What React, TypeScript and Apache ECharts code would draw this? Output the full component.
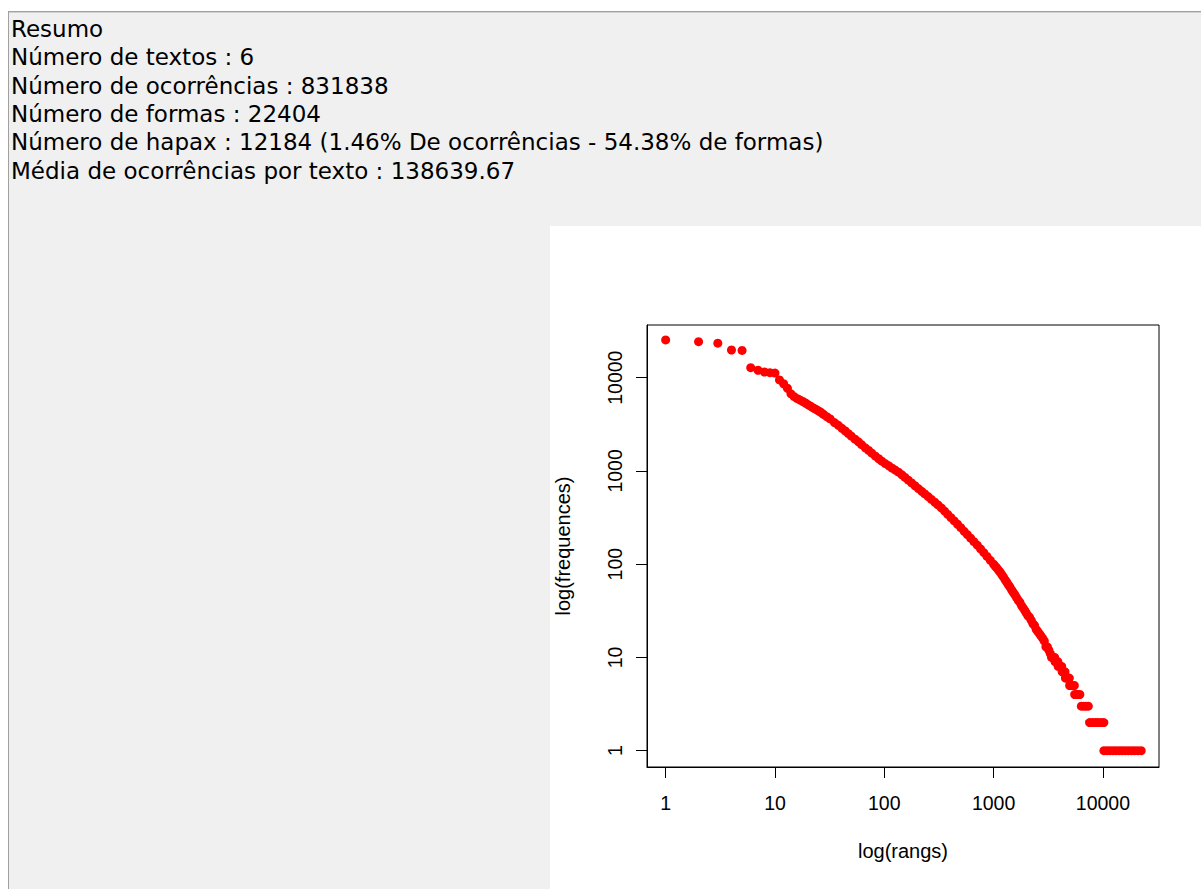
import React, { useEffect, useRef } from "react";
import * as echarts from "echarts";

const summaryLines = [
  "Resumo",
  "Número de textos : 6",
  "Número de ocorrências : 831838",
  "Número de formas : 22404",
  "Número de hapax : 12184 (1.46% De ocorrências - 54.38% de formas)",
  "Média de ocorrências por texto : 138639.67",
];

const xTickValues = [1, 10, 100, 1000, 10000];
const yTickValues = [1, 10, 100, 1000, 10000];
const xAxisTitle = "log(rangs)";
const yAxisTitle = "log(frequences)";

const ranks = [
  1, 2, 3, 4, 5, 6, 7, 8, 9, 10, 11, 12, 13, 14, 15, 16, 17, 18, 19, 20,
  21, 22, 23, 24, 25, 26, 27, 28, 30, 32, 35, 38, 41, 44, 47, 50, 54, 58, 62, 67, 72, 77, 83, 89, 95,
  102, 110, 118, 126, 135, 145, 155, 166, 178, 191, 205,
  220, 235, 252, 270, 290, 310, 332, 356, 381, 408, 437, 468,
  502, 538, 576, 617, 661, 708, 759, 813, 871, 933, 1000,
  1035, 1070, 1110, 1150, 1190, 1230, 1275, 1320, 1365, 1410, 1460, 1510, 1565, 1620, 1680, 1740, 1800, 1860, 1925, 1990,
  2060, 2130, 2210, 2290, 2370, 2450, 2535, 2620, 2715, 2810, 2910, 3010, 3100, 3200, 3300,
  3390, 3460, 3550, 3620, 3650, 3720, 3800, 3870, 3900, 4000, 4100, 4200, 4240, 4330, 4420, 4500,
  4540, 4670, 4800, 4930, 4960, 5130, 5300, 5480, 5520, 5730, 5940, 6150, 6350, 6650, 7000, 7350,
  7550, 8000, 8500, 9000, 9600, 10200,
  10221, 10900, 11600, 12400, 13200, 14100, 15000, 16000, 17100, 18300, 19500, 20900, 22404,
];

const freqs = [
  25400, 24300, 23400, 19800, 19600, 12800, 12000, 11500, 11300, 11200, 9450, 8600, 7700, 6700, 6250, 5950, 5750, 5550, 5350, 5150,
  4970, 4800, 4660, 4530, 4400, 4290, 4150, 4020, 3790, 3610, 3300, 3080, 2860, 2680, 2510, 2360, 2190, 2050, 1910, 1770, 1660, 1550, 1440, 1350, 1270,
  1200, 1135, 1070, 1020, 968, 908, 851, 796, 743, 693, 647,
  604, 566, 530, 495, 461, 432, 402, 371, 341, 315, 291, 268,
  246, 225, 207, 190, 174, 160, 146, 133, 121, 110, 100,
  95, 91, 86, 82, 77, 73, 68, 64, 60, 57, 53, 50, 47, 44, 41, 39, 36, 34, 32, 30,
  28, 27, 25, 23, 22, 20, 19, 18, 17, 16, 15, 13, 13, 12, 11,
  10, 10, 10, 10, 9, 9, 9, 9, 8, 8, 8, 8, 7, 7, 7, 7,
  6, 6, 6, 6, 5, 5, 5, 5, 4, 4, 4, 4, 3, 3, 3, 3,
  2, 2, 2, 2, 2, 2,
  1, 1, 1, 1, 1, 1, 1, 1, 1, 1, 1, 1, 1,
];

export default function App() {
  const ref = useRef<HTMLDivElement>(null);

  useEffect(() => {
    if (!ref.current) return;
    const chart = echarts.init(ref.current, undefined, { renderer: "svg" });
    const points = ranks.map((r, i) => [r, freqs[i]]);
    const rFont = "Liberation Sans";

    const textEls = summaryLines.map((t, i) => ({
      type: "text",
      x: 11,
      y: 29 + i * 28.3,
      z: 5,
      silent: true,
      style: {
        text: t,
        fontSize: 23,
        fontFamily: "DejaVu Sans",
        fill: "#000000",
        verticalAlign: "middle",
        align: "left",
      },
    }));

    chart.setOption({
      animation: false,
      backgroundColor: "#ffffff",
      graphic: {
        elements: [
          { type: "rect", z: -20, silent: true, shape: { x: 8, y: 11, width: 1193, height: 878 }, style: { fill: "#f0f0f0" } },
          { type: "rect", z: -19, silent: true, shape: { x: 8, y: 11, width: 1193, height: 1 }, style: { fill: "#a0a0a0" } },
          { type: "rect", z: -19, silent: true, shape: { x: 8, y: 12, width: 1193, height: 1 }, style: { fill: "#d0d0d0" } },
          { type: "rect", z: -19, silent: true, shape: { x: 8, y: 11, width: 1, height: 878 }, style: { fill: "#a0a0a0" } },
          { type: "rect", z: -19, silent: true, shape: { x: 550, y: 226, width: 651, height: 663 }, style: { fill: "#ffffff" } },
          ...textEls,
        ],
      },
      grid: {
        left: 647,
        top: 325,
        width: 512,
        height: 442,
        show: true,
        borderColor: "#000000",
        borderWidth: 1,
        backgroundColor: "transparent",
        containLabel: false,
      },
      xAxis: {
        type: "log",
        logBase: 10,
        min: 0.675,
        max: 32600,
        name: xAxisTitle,
        nameLocation: "middle",
        nameGap: 74,
        nameTextStyle: { fontFamily: rFont, fontSize: 20, color: "#000000" },
        axisLine: { show: true, lineStyle: { color: "#000000", width: 1 } },
        axisTick: { show: true, length: 11, lineStyle: { color: "#000000", width: 1 }, customValues: xTickValues },
        axisLabel: {
          customValues: xTickValues,
          fontFamily: rFont,
          fontSize: 19.5,
          color: "#000000",
          margin: 26,
          formatter: (v: number) => String(Math.round(v)),
        },
        splitLine: { show: false },
      },
      yAxis: {
        type: "log",
        logBase: 10,
        min: 0.668,
        max: 36700,
        name: yAxisTitle,
        nameLocation: "middle",
        nameGap: 74,
        nameRotate: 90,
        nameTextStyle: { fontFamily: rFont, fontSize: 20, color: "#000000" },
        axisLine: { show: true, lineStyle: { color: "#000000", width: 1 } },
        axisTick: { show: true, length: 11, lineStyle: { color: "#000000", width: 1 }, customValues: yTickValues },
        axisLabel: {
          customValues: yTickValues,
          rotate: 90,
          fontFamily: rFont,
          fontSize: 19.5,
          color: "#000000",
          margin: 22,
          formatter: (v: number) => String(Math.round(v)),
        },
        splitLine: { show: false },
      },
      series: [
        {
          type: "scatter",
          data: points,
          symbol: "circle",
          symbolSize: 9,
          itemStyle: { color: "#ff0000", opacity: 1 },
          emphasis: { disabled: true },
          z: 3,
        },
      ],
    });

    return () => chart.dispose();
  }, []);

  return (
    <div
      ref={ref}
      style={{ position: "absolute", left: 0, top: 0, width: 1201, height: 889 }}
    />
  );
}
